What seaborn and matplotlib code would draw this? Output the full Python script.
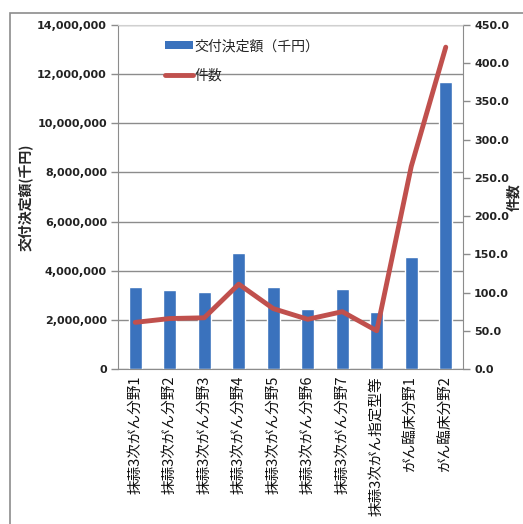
import numpy as np
import pandas as pd
import matplotlib
matplotlib.use('Agg')
import matplotlib.pyplot as plt
import seaborn as sns
from matplotlib.patches import Rectangle, Patch
from matplotlib.lines import Line2D
from matplotlib.ticker import FuncFormatter, MultipleLocator

sns.set_style('white')
plt.rcParams['font.family'] = ['Noto Sans CJK JP', 'DejaVu Sans']

# データ
categories = ['抹蒜3次がん分野1', '抹蒜3次がん分野2', '抹蒜3次がん分野3', '抹蒜3次がん分野4',
              '抹蒜3次がん分野5', '抹蒜3次がん分野6', '抹蒜3次がん分野7', '抹蒜3次がん指定型等',
              'がん臨床分野1', 'がん臨床分野2']
amount = [3320000, 3200000, 3130000, 4730000, 3320000, 2440000, 3250000, 2310000, 4570000, 11670000]
counts = [61, 66, 67, 111, 79, 65, 75, 50, 265, 421]

df = pd.DataFrame({'cat': categories, 'amount': amount, 'count': counts})

fig = plt.figure(figsize=(5.23, 5.24), dpi=100)
ax = fig.add_axes([0.2256, 0.2958, 0.6597, 0.6565])

# 外枠
fig.patches.append(Rectangle((10 / 523, -0.1), 1.2, 1 - 13 / 524 + 0.1, transform=fig.transFigure,
                             fill=False, edgecolor='#8c8c8c', linewidth=1.2))

gray = '#8c8c8c'
num_font = dict(family='DejaVu Sans', weight='bold', size=8)

ax.set_axisbelow(True)
ax.grid(axis='y', color=gray, linewidth=1)
sns.barplot(data=df, x='cat', y='amount', color='#3a72bd', width=0.38, saturation=1, ax=ax, zorder=2)
ax.set_xlim(-0.5, 9.5)
ax.set_ylim(0, 14000000)
ax.yaxis.set_major_locator(MultipleLocator(2000000))
ax.yaxis.set_major_formatter(FuncFormatter(lambda v, p: f'{int(v):,}'))
ax.set_xlabel('')
ax.set_ylabel('交付決定額(千円)', fontsize=10, fontweight='bold', labelpad=3)
ax.tick_params(axis='x', which='major', length=0, labelsize=10.5, labelrotation=90, pad=5, labelcolor='#111111')
ax.set_xticks(np.arange(-0.5, 10, 1), minor=True)
ax.tick_params(axis='x', which='minor', length=5, color=gray, width=1)
ax.tick_params(axis='y', length=5, color=gray, width=1, labelcolor='#222222', pad=3)
for lab in ax.get_yticklabels():
    lab.set_fontproperties(num_font)
for s in ['left', 'bottom', 'right', 'top']:
    ax.spines[s].set_color(gray)
ax.spines['top'].set_color('#d0d0d0')

ax2 = ax.twinx()
sns.lineplot(x=np.arange(len(categories)), y=counts, color='#c0504d', linewidth=3.5, ax=ax2, zorder=3)
ax2.set_ylim(0, 450)
ax2.yaxis.set_major_locator(MultipleLocator(50))
ax2.yaxis.set_major_formatter(FuncFormatter(lambda v, p: f'{v:.1f}'))
ax2.set_ylabel('件数', fontsize=10, fontweight='bold', labelpad=-1)
ax2.tick_params(axis='y', length=5, color=gray, width=1, labelcolor='#222222', pad=3)
for lab in ax2.get_yticklabels():
    lab.set_fontproperties(num_font)
for s in ['left', 'bottom', 'right', 'top']:
    ax2.spines[s].set_visible(False)

handles = [Patch(facecolor='#3a72bd', edgecolor='none'),
           Line2D([0], [0], color='#c0504d', linewidth=3.5)]
ax.legend(handles, ['交付決定額（千円）', '件数'], loc='upper left', bbox_to_anchor=(0.1, 0.995),
          frameon=False, fontsize=10, labelspacing=1.1, handlelength=2.0, handleheight=0.5,
          handletextpad=0.1)

fig.savefig('out.png', dpi=100)
